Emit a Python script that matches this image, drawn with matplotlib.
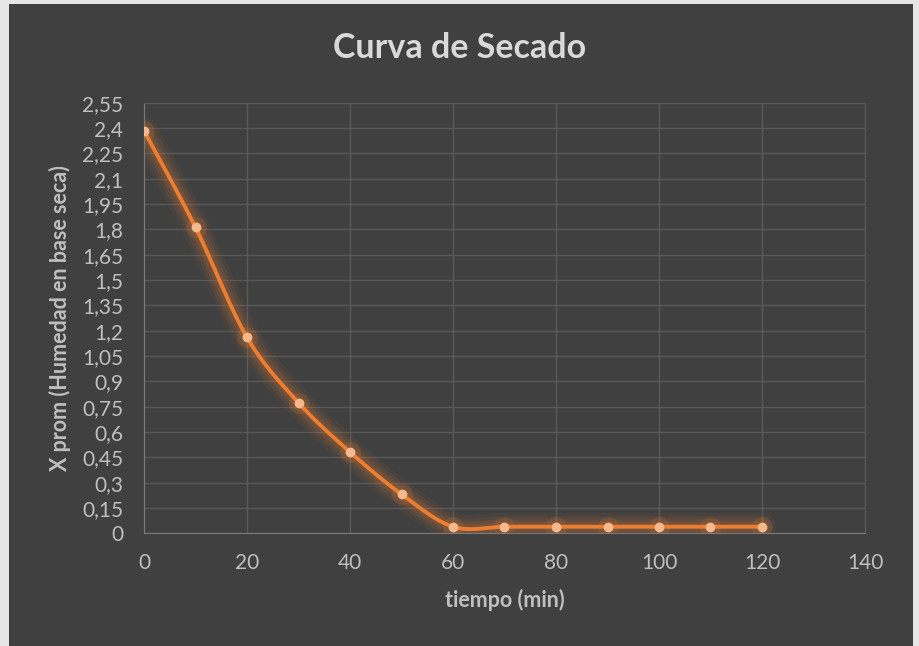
import matplotlib
matplotlib.use("Agg")
from matplotlib import pyplot as plt
from matplotlib.patches import Rectangle
import numpy as np

# data
tiempo = [0, 10, 20, 30, 40, 50, 60, 70, 80, 90, 100, 110, 120]
x_prom = [2.384, 1.812, 1.160, 0.773, 0.481, 0.231, 0.039,
          0.039, 0.039, 0.039, 0.039, 0.039, 0.039]
yticks = [0, 0.15, 0.3, 0.45, 0.6, 0.75, 0.9, 1.05, 1.2, 1.35, 1.5,
          1.65, 1.8, 1.95, 2.1, 2.25, 2.4, 2.55]
xticks = [0, 20, 40, 60, 80, 100, 120, 140]

plt.rcParams['font.family'] = ['Lato', 'DejaVu Sans']

bg = '#404040'
txt = '#bfbfbf'
orange = '#ed7d31'


def smooth(xs, ys, n=30):
    # Excel style smoothed line: cubic bezier with catmull-rom control points
    xs = np.asarray(xs, float)
    ys = np.asarray(ys, float)
    px = np.concatenate([[xs[0]], xs, [xs[-1]]])
    py = np.concatenate([[ys[0]], ys, [ys[-1]]])
    outx, outy = [], []
    t = np.linspace(0, 1, n)
    for i in range(1, len(px) - 2):
        p0 = np.array([px[i], py[i]])
        p3 = np.array([px[i + 1], py[i + 1]])
        p1 = p0 + (np.array([px[i + 1], py[i + 1]]) - np.array([px[i - 1], py[i - 1]])) / 6
        p2 = p3 - (np.array([px[i + 2], py[i + 2]]) - np.array([px[i], py[i]])) / 6
        b = ((1 - t) ** 3)[:, None] * p0 + (3 * (1 - t) ** 2 * t)[:, None] * p1 \
            + (3 * (1 - t) * t ** 2)[:, None] * p2 + (t ** 3)[:, None] * p3
        outx.extend(b[:, 0])
        outy.extend(b[:, 1])
    return np.array(outx), np.array(outy)


fig = plt.figure(figsize=(9.19, 6.46), dpi=100, facecolor='#e6e6e6')
fig.patches.append(Rectangle((9 / 919, 0), (913 - 9) / 919, 642 / 646,
                             transform=fig.transFigure, facecolor=bg,
                             edgecolor='none', zorder=-5))

ax = fig.add_axes([144 / 919, 1 - 533.3 / 646, (865 - 144) / 919, (533.3 - 102.7) / 646])
ax.set_facecolor(bg)

sx, sy = smooth(tiempo, x_prom)
# glow
for lw, a in [(20, 0.05), (15, 0.07), (11, 0.09), (7.5, 0.12)]:
    ax.plot(sx, sy, color=orange, lw=lw, alpha=a, solid_capstyle='round', zorder=2)
ax.plot(tiempo, x_prom, 'o', color=orange, ms=15, alpha=0.15, mec='none', zorder=2)
ax.plot(sx, sy, color=orange, lw=2.8, zorder=3, solid_capstyle='round')
ax.plot(tiempo, x_prom, 'o', color='#f6b98d', ms=6, mec='#f6b98d', zorder=4)

ax.set_xlim(0, 140)
ax.set_ylim(0, 2.55)
ax.set_xticks(xticks)
ax.set_yticks(yticks)
ax.set_yticklabels(['{:g}'.format(v).replace('.', ',') for v in yticks])
ax.set_xticklabels([str(v) for v in xticks])
ax.tick_params(colors=txt, labelsize=15, length=0)
ax.tick_params(axis='y', pad=15)
ax.tick_params(axis='x', pad=14)
ax.grid(True, color='#595959', lw=1)
ax.set_axisbelow(True)
for s in ['top', 'right']:
    ax.spines[s].set_color('#595959')
for s in ['left', 'bottom']:
    ax.spines[s].set_color('#7a7a7a')

ax.set_xlabel('tiempo (min)', color=txt, fontsize=15.5, fontweight='bold', labelpad=12)
ax.set_ylabel('X prom (Humedad en base seca)', color=txt, fontsize=15.5,
              fontweight='bold', labelpad=8)
fig.text(0.5, 1 - 48 / 646, 'Curva de Secado', color='#d9d9d9', fontsize=24.5,
         fontweight='bold', ha='center', va='center')

plt.savefig('out.png', dpi=100, facecolor=fig.get_facecolor())
